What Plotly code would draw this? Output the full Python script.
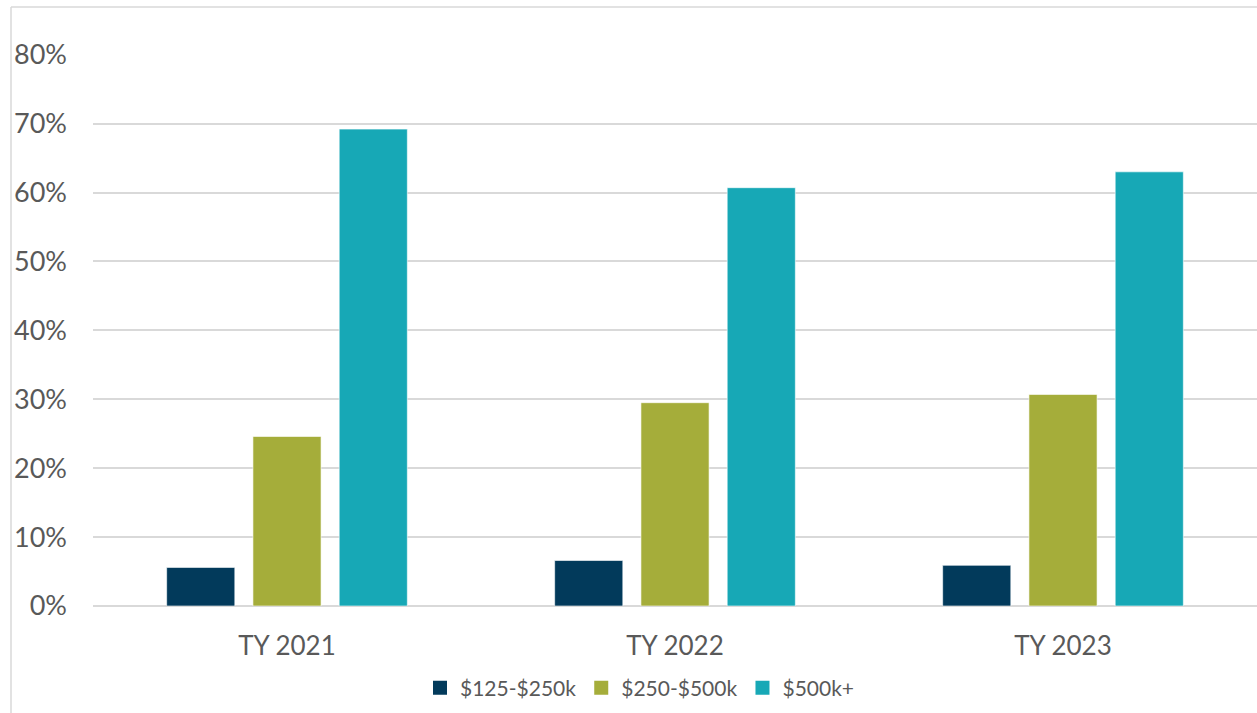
import plotly.graph_objects as go

# Tax years on the category axis
years = ["TY 2021", "TY 2022", "TY 2023"]

# Share of returns by income bracket (fractions)
bracket_125_250 = [0.056, 0.066, 0.059]
bracket_250_500 = [0.246, 0.295, 0.307]
bracket_500_plus = [0.692, 0.607, 0.630]

series_names = ["$125-$250k", "$250-$500k", "$500k+"]
series_colors = ["#023A5B", "#A5AD3A", "#17A8B6"]

text_color = "#595959"
grid_color = "#D9D9D9"
font_family = "Lato, 'Open Sans', sans-serif"

fig = go.Figure()
for name, vals, color in zip(series_names,
                             [bracket_125_250, bracket_250_500, bracket_500_plus],
                             series_colors):
    fig.add_trace(go.Bar(
        x=years, y=vals, name=name, legendgroup=name, showlegend=False,
        marker=dict(color=color, line=dict(color="rgba(255,255,255,0.6)", width=1)),
        hoverinfo="skip",
    ))

# Legend keys: larger square swatches
for name, color in zip(series_names, series_colors):
    fig.add_trace(go.Scatter(
        x=[None], y=[None], name=name, legendgroup=name, mode="markers",
        marker=dict(symbol="square", size=14, color=color),
        hoverinfo="skip",
    ))

W, H = 1257, 713
ml, mr, mt, mb = 93, 0, 54, 107
pw, ph = W - ml - mr, H - mt - mb

def px_x(x):
    return (x - ml) / pw

def px_y(y):
    return (H - mb - y) / ph

# Chart-area frame (left and top edges visible)
fig.add_shape(type="line", xref="paper", yref="paper",
              x0=px_x(11), x1=px_x(11), y0=px_y(7), y1=px_y(H + 5),
              line=dict(color=grid_color, width=1.5), layer="below")
fig.add_shape(type="line", xref="paper", yref="paper",
              x0=px_x(11), x1=px_x(W + 5), y0=px_y(7), y1=px_y(7),
              line=dict(color=grid_color, width=1.5), layer="below")

fig.update_layout(
    width=W, height=H,
    margin=dict(l=ml, r=mr, t=mt, b=mb, pad=0),
    paper_bgcolor="white", plot_bgcolor="white",
    barmode="group", bargap=0.333, bargroupgap=0.21,
    font=dict(family=font_family, color=text_color, size=26),
    showlegend=True,
    legend=dict(
        orientation="h", x=px_x(420), xanchor="left",
        y=px_y(688), yanchor="middle",
        font=dict(size=21, color=text_color),
        itemwidth=30, traceorder="normal",
        bgcolor="rgba(0,0,0,0)",
    ),
)

fig.update_xaxes(
    showgrid=False, showline=False, ticks="",
    tickfont=dict(size=26, color=text_color),
    ticklabelstandoff=22,
)
fig.update_yaxes(
    range=[0, 0.801], dtick=0.1, tick0=0, tickformat=".0%",
    showgrid=True, gridcolor=grid_color, gridwidth=1.5,
    zeroline=True, zerolinecolor=grid_color, zerolinewidth=1.5,
    showline=False, ticks="",
    tickfont=dict(size=27, color=text_color),
    ticklabelstandoff=25,
)

fig.write_html("out.html")
